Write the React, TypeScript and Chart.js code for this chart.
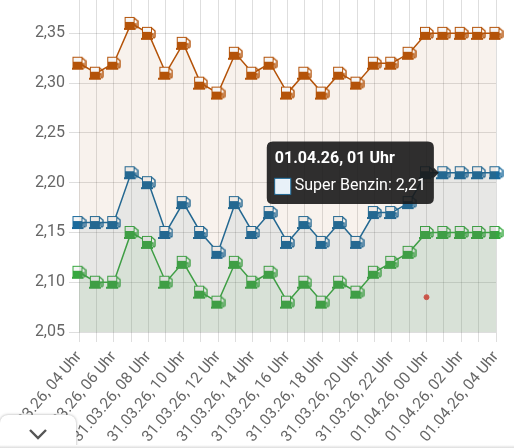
import React, { useEffect, useRef } from "react";
import { Chart, registerables } from "chart.js";

Chart.register(...registerables);

const hours = ["04","05","06","07","08","09","10","11","12","13","14","15","16","17","18","19","20","21","22","23","00","01","02","03","04"];
const days = ["31.03.26","31.03.26","31.03.26","31.03.26","31.03.26","31.03.26","31.03.26","31.03.26","31.03.26","31.03.26","31.03.26","31.03.26","31.03.26","31.03.26","31.03.26","31.03.26","31.03.26","31.03.26","31.03.26","31.03.26","01.04.26","01.04.26","01.04.26","01.04.26","01.04.26"];
const categories = hours.map((h, i) => `${days[i]}, ${h} Uhr`);
const diesel = [2.32,2.31,2.32,2.36,2.35,2.31,2.34,2.30,2.29,2.33,2.31,2.32,2.29,2.31,2.29,2.31,2.30,2.32,2.32,2.33,2.35,2.35,2.35,2.35,2.35];
const superBenzin = [2.16,2.16,2.16,2.21,2.20,2.15,2.18,2.15,2.13,2.18,2.15,2.17,2.14,2.16,2.14,2.16,2.14,2.17,2.17,2.18,2.21,2.21,2.21,2.21,2.21];
const e10 = [2.11,2.10,2.10,2.15,2.14,2.10,2.12,2.09,2.08,2.12,2.10,2.11,2.08,2.10,2.08,2.10,2.09,2.11,2.12,2.13,2.15,2.15,2.15,2.15,2.15];
const nowMark = categories.map((_, i) => (i === 20 ? 2.085 : null));

const ORANGE = "#b45309";
const BLUE = "#1a6a9c";
const GREEN = "#36a83f";

function pump(color: string) {
  const c = document.createElement("canvas");
  c.width = 15;
  c.height = 15;
  const g = c.getContext("2d")!;
  g.fillStyle = "#f6f6f6";
  g.fillRect(2, 2, 9, 5);
  g.fillStyle = color;
  g.strokeStyle = color;
  g.lineWidth = 1;
  g.strokeRect(1.5, 1.5, 9, 5);
  g.fillRect(1, 6, 10, 7);
  g.fillRect(0, 12, 12, 2);
  g.lineWidth = 1.4;
  g.beginPath();
  g.moveTo(10.5, 2);
  g.lineTo(14, 5);
  g.lineTo(14, 11);
  g.quadraticCurveTo(13, 13, 12, 11);
  g.lineTo(12, 8);
  g.lineTo(11, 8);
  g.stroke();
  return c;
}

function series(label: string, data: number[], color: string, fill: string) {
  const icon = pump(color);
  return {
    label,
    data,
    borderColor: color,
    backgroundColor: fill,
    borderWidth: 1.5,
    fill: "start",
    tension: 0,
    pointStyle: icon,
    pointRadius: 7,
    pointHoverRadius: 7,
  };
}

export default function App() {
  const ref = useRef<HTMLCanvasElement>(null);
  useEffect(() => {
    const chart = new Chart(ref.current!, {
      type: "line",
      data: {
        labels: categories,
        datasets: [
          series("Diesel", diesel, ORANGE, "rgba(170,90,30,0.08)") as any,
          series("Super Benzin", superBenzin, BLUE, "rgba(68,142,167,0.1)") as any,
          series("Super E10", e10, GREEN, "rgba(100,182,110,0.1)") as any,
          {
            label: "Jetzt",
            data: nowMark,
            borderColor: "#ea4440",
            backgroundColor: "#ea4440",
            pointRadius: 2.5,
            showLine: false,
          } as any,
        ],
      },
      options: {
        responsive: false,
        animation: false,
        layout: { padding: { top: 0, right: 24, bottom: 0, left: 0 } },
        interaction: { mode: "nearest", intersect: false },
        plugins: {
          legend: { display: false },
          tooltip: {
            enabled: true,
            backgroundColor: "rgba(25,25,25,0.9)",
            titleFont: { family: "Roboto", size: 16, weight: "bold" },
            bodyFont: { family: "Roboto", size: 16 },
            titleColor: "#fff",
            bodyColor: "#fff",
            padding: 8,
            cornerRadius: 6,
            titleMarginBottom: 8,
            boxPadding: 2,
            boxWidth: 16,
            boxHeight: 16,
            caretSize: 5,
            caretPadding: 5,
            xAlign: "right",
            yAlign: "center",
            displayColors: true,
            multiKeyBackground: "#fff",
            callbacks: {
              label: (ctx: any) => `${ctx.dataset.label}: ${ctx.parsed.y.toFixed(2).replace(".", ",")}`,
              labelColor: () => ({ borderColor: BLUE, backgroundColor: "#e8f1f8", borderWidth: 1 }),
            },
          },
        },
        scales: {
          x: {
            grid: { color: "rgba(0,0,0,0.13)", tickLength: 10 },
            border: { display: false },
            afterFit: (s: any) => { s.height = 138; s.paddingLeft = 0; s.paddingRight = 0; },
            ticks: {
              font: { family: "Roboto", size: 15.5 },
              color: "#666",
              padding: 6,
              minRotation: 50,
              maxRotation: 50,
              autoSkip: false,
              callback: (_: any, i: number) => (i % 2 === 0 ? categories[i] : ""),
            },
          },
          y: {
            min: 2.05,
            max: 2.4,
            grid: { color: "rgba(0,0,0,0.13)", tickLength: 10 },
            border: { display: false },
            afterFit: (s: any) => { s.width = 129; },
            ticks: {
              stepSize: 0.05,
              font: { family: "Roboto", size: 16 },
              color: "#666",
              padding: 4,
              callback: (v: any) => Number(v).toFixed(2).replace(".", ","),
            },
          },
        },
      } as any,
    });
    chart.setActiveElements([{ datasetIndex: 1, index: 21 }]);
    chart.tooltip!.setActiveElements([{ datasetIndex: 1, index: 21 }], { x: 0, y: 0 });
    chart.update();
    return () => chart.destroy();
  }, []);
  return (
    <div style={{ position: "fixed", left: 0, top: 0, width: 514, height: 448, overflow: "hidden", background: "#fff" }}>
      <canvas ref={ref} width={570} height={500} style={{ position: "absolute", left: -50, top: -30, width: 570, height: 500 }} />
      <div style={{ position: "absolute", left: 0, top: 415, width: 76, height: 40, background: "#fff", borderRadius: "8px 8px 0 0", boxShadow: "0 0 3px rgba(0,0,0,0.35)", fontFamily: "Roboto" }}>
        <svg width="20" height="12" viewBox="0 0 20 12" style={{ position: "absolute", left: 28, top: 13 }}>
          <path d="M2 2 L10 10 L18 2" fill="none" stroke="#555" strokeWidth="2.4" />
        </svg>
      </div>
      <div style={{ position: "absolute", left: 0, top: 445, width: 514, height: 3, background: "linear-gradient(#fff,#ddd)" }} />
    </div>
  );
}
